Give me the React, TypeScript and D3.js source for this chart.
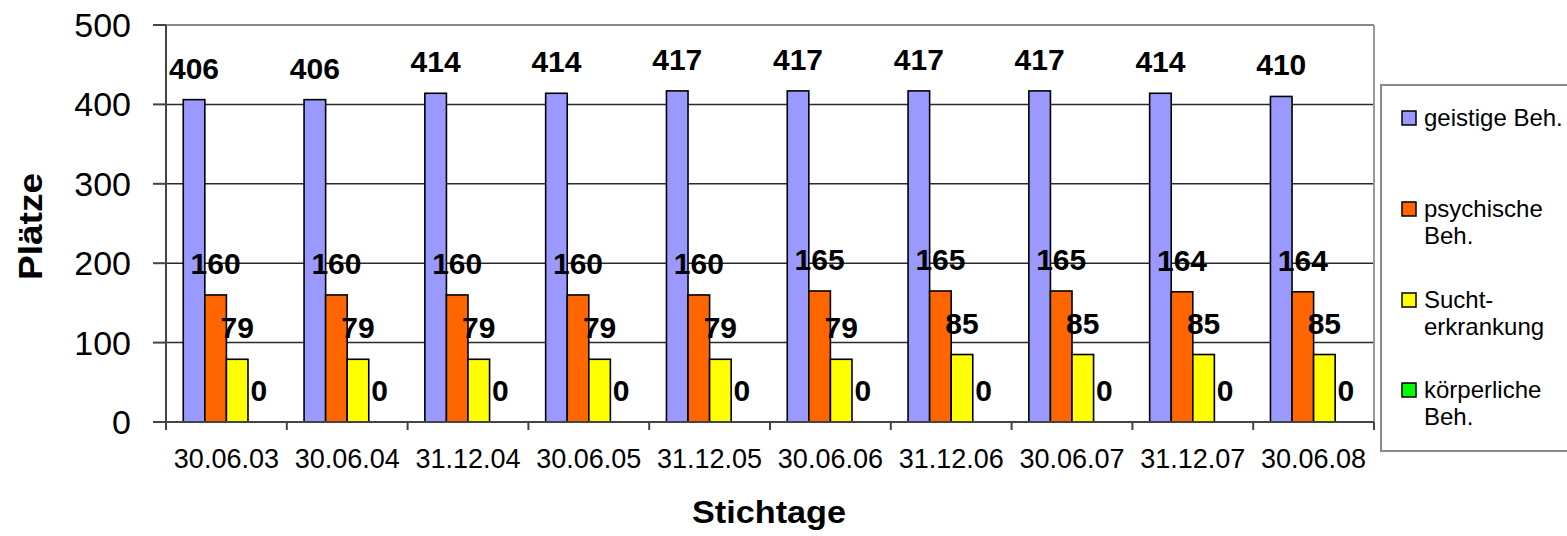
import React from "react";
import * as d3 from "d3";

const categories = ["30.06.03", "30.06.04", "31.12.04", "30.06.05", "31.12.05", "30.06.06", "31.12.06", "30.06.07", "31.12.07", "30.06.08"];
const seriesNames = ["geistige Beh.", "psychische Beh.", "Sucht-erkrankung", "körperliche Beh."];
const legendLines = [["geistige Beh."], ["psychische", "Beh."], ["Sucht-", "erkrankung"], ["körperliche", "Beh."]];
const seriesColors = ["#9999FF", "#FF6600", "#FFFF00", "#00FF00"];
const geistige = [406, 406, 414, 414, 417, 417, 417, 417, 414, 410];
const psychische = [160, 160, 160, 160, 160, 165, 165, 165, 164, 164];
const sucht = [79, 79, 79, 79, 79, 79, 85, 85, 85, 85];
const koerperlich = [0, 0, 0, 0, 0, 0, 0, 0, 0, 0];
const seriesValues = [geistige, psychische, sucht, koerperlich];
const yTicks = [0, 100, 200, 300, 400, 500];

const W = 1567, H = 536;
const L = 166, R = 1374, T = 25, B = 422;

export default function App() {
  const x = d3.scaleBand<string>().domain(categories).range([L, R]).padding(0);
  const x1 = d3.scaleBand<number>().domain([0, 1, 2, 3]).range([0, x.bandwidth()]).paddingInner(0).paddingOuter(0.8);
  const y = d3.scaleLinear().domain([0, 500]).range([B, T]);
  const font = "Arial, 'Liberation Sans', sans-serif";

  return (
    <svg width={W} height={H} style={{ position: "absolute", left: 0, top: 0, background: "#fff" }} fontFamily={font}>
      {yTicks.filter(t => t > 0 && t < 500).map(t => (
        <line key={"g" + t} x1={L} x2={R} y1={y(t)} y2={y(t)} stroke="#2a2a2a" strokeWidth={1.5} />
      ))}
      <line x1={L} x2={R} y1={y(500)} y2={y(500)} stroke="#888" strokeWidth={2} />
      <line x1={R} x2={R} y1={y(500)} y2={B} stroke="#999" strokeWidth={2} />
      {categories.map((c, i) => (
        <g key={c} transform={`translate(${x(c)},0)`}>
          {seriesValues.map((vals, s) => (
            <rect key={s} x={x1(s)} y={y(vals[i])} width={x1.bandwidth()} height={B - y(vals[i])}
              fill={seriesColors[s]} stroke="#000" strokeWidth={1.6} />
          ))}
        </g>
      ))}
      {categories.map((c, i) => (
        <g key={"l" + c}>
          {seriesValues.map((vals, s) => (
            <text key={s} x={(x(c) as number) + (x1(s) as number) + x1.bandwidth() / 2} y={y(vals[i]) - 21}
              textAnchor="middle" fontSize={30} fontWeight="bold" fill="#000">{vals[i]}</text>
          ))}
        </g>
      ))}
      <line x1={L} x2={L} y1={y(500)} y2={B + 8} stroke="#444" strokeWidth={2} />
      <line x1={L - 13} x2={R} y1={B} y2={B} stroke="#444" strokeWidth={2} />
      {yTicks.map(t => (
        <g key={"yt" + t}>
          <line x1={L - 13} x2={L} y1={y(t)} y2={y(t)} stroke="#444" strokeWidth={2} />
          <text x={131} y={y(t) + 12} textAnchor="end" fontSize={34} fill="#000">{t}</text>
        </g>
      ))}
      {categories.map((c, i) => (
        <g key={"xt" + c}>
          <line x1={(x(c) as number) + x.bandwidth()} x2={(x(c) as number) + x.bandwidth()} y1={B} y2={B + 8} stroke="#444" strokeWidth={2} />
          <text x={(x(c) as number) + x.bandwidth() / 2} y={468} textAnchor="middle" fontSize={27} fill="#000">{c}</text>
        </g>
      ))}
      <text x={769} y={523} textAnchor="middle" fontSize={31} fontWeight="bold" textLength={154} lengthAdjust="spacingAndGlyphs">Stichtage</text>
      <text transform={`translate(42,${(173 + 280) / 2}) rotate(-90)`} textAnchor="middle" fontSize={33} fontWeight="bold" textLength={107} lengthAdjust="spacingAndGlyphs">Plätze</text>
      <rect x={1381} y={85} width={200} height={366} fill="#fff" stroke="#888" strokeWidth={2} />
      {seriesNames.map((n, s) => {
        const cy = [118, 209, 300, 390][s];
        return (
          <g key={"lg" + n}>
            <rect x={1402} y={cy - 7} width={14} height={14} fill={seriesColors[s]} stroke="#000" strokeWidth={1.5} />
            {legendLines[s].map((ln, k) => (
              <text key={k} x={1424} y={cy + 8 + k * 27} fontSize={24} fill="#000">{ln}</text>
            ))}
          </g>
        );
      })}
    </svg>
  );
}
